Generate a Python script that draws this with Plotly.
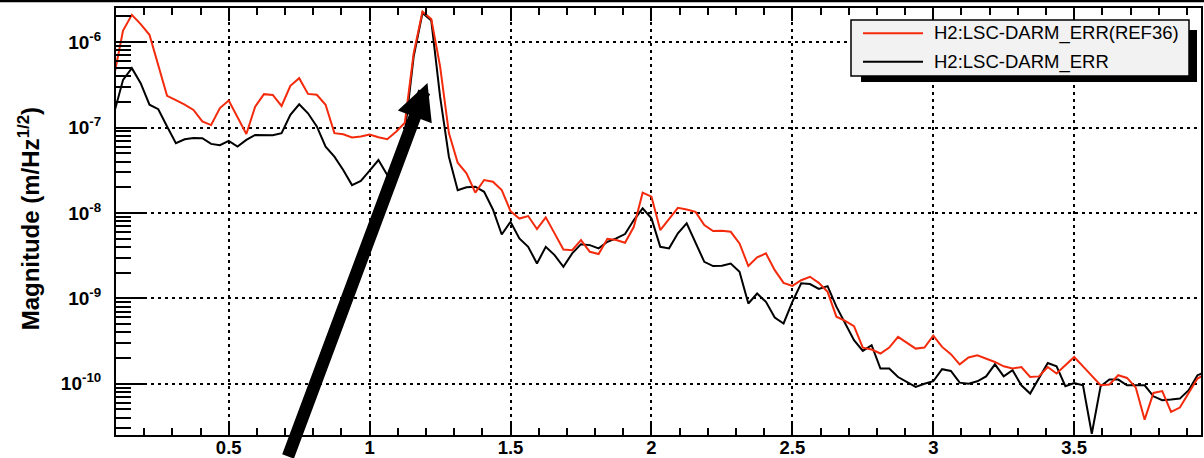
import plotly.graph_objects as go

# ---------------- data ----------------
freq = [0.09375, 0.125, 0.15625, 0.1875, 0.21875, 0.25, 0.28125, 0.3125, 0.34375, 0.375,
        0.40625, 0.4375, 0.46875, 0.5, 0.53125, 0.5625, 0.59375, 0.625, 0.65625, 0.6875,
        0.71875, 0.75, 0.78125, 0.8125, 0.84375, 0.875, 0.90625, 0.9375, 0.96875, 1.0,
        1.03125, 1.0625, 1.09375, 1.125, 1.15625, 1.1875, 1.21875, 1.25, 1.28125, 1.3125,
        1.34375, 1.375, 1.40625, 1.4375, 1.46875, 1.5, 1.53125, 1.5625, 1.59375, 1.625,
        1.65625, 1.6875, 1.71875, 1.75, 1.78125, 1.8125, 1.84375, 1.875, 1.90625, 1.9375,
        1.96875, 2.0, 2.03125, 2.0625, 2.09375, 2.125, 2.15625, 2.1875, 2.21875, 2.25,
        2.28125, 2.3125, 2.34375, 2.375, 2.40625, 2.4375, 2.46875, 2.5, 2.53125, 2.5625,
        2.59375, 2.625, 2.65625, 2.6875, 2.71875, 2.75, 2.78125, 2.8125, 2.84375, 2.875,
        2.90625, 2.9375, 2.96875, 3.0, 3.03125, 3.0625, 3.09375, 3.125, 3.15625, 3.1875,
        3.21875, 3.25, 3.28125, 3.3125, 3.34375, 3.375, 3.40625, 3.4375, 3.46875, 3.5,
        3.53125, 3.5625, 3.59375, 3.625, 3.65625, 3.6875, 3.71875, 3.75, 3.78125, 3.8125,
        3.84375, 3.875, 3.90625, 3.9375, 3.96875]

ref36 = [4.1e-7, 1.37e-6, 2.09e-6, 1.63e-6, 1.22e-6, 5.3e-7, 2.35e-7, 2.09e-7, 1.86e-7, 1.61e-7,
         1.18e-7, 1.07e-7, 1.69e-7, 2.07e-7, 1.29e-7, 8.4e-8, 1.76e-7, 2.46e-7, 2.41e-7, 1.79e-7,
         3.08e-7, 3.79e-7, 2.48e-7, 2.42e-7, 1.85e-7, 8.6e-8, 8.35e-8, 7.64e-8, 7.85e-8, 8.28e-8,
         7.7e-8, 7.3e-8, 8.95e-8, 1.14e-7, 7.4e-7, 2.28e-6, 1.86e-6, 5.2e-7, 8.6e-8, 3.88e-8,
         2.91e-8, 1.73e-8, 2.43e-8, 2.32e-8, 1.85e-8, 1.05e-8, 8.6e-9, 9.2e-9, 6.47e-9, 8.9e-9,
         5.77e-9, 3.74e-9, 3.67e-9, 4.81e-9, 3.51e-9, 3.3e-9, 4.99e-9, 4.81e-9, 4.48e-9, 6.89e-9,
         1.73e-8, 1.55e-8, 6.3e-9, 8.4e-9, 1.15e-8, 1.1e-8, 1.03e-8, 7.21e-9, 6.14e-9, 6.18e-9,
         6.02e-9, 4.4e-9, 2.39e-9, 3.02e-9, 3.36e-9, 2.14e-9, 1.52e-9, 1.4e-9, 1.63e-9, 1.79e-9,
         1.52e-9, 1.19e-9, 6.1e-10, 5.45e-10, 4.72e-10, 2.65e-10, 2.52e-10, 2.26e-10, 2.65e-10, 3.54e-10,
         3.01e-10, 2.58e-10, 2.65e-10, 3.67e-10, 2.7e-10, 2.22e-10, 1.69e-10, 2.03e-10, 2.16e-10, 1.97e-10,
         1.8e-10, 1.6e-10, 1.51e-10, 1.57e-10, 1.2e-10, 1.22e-10, 1.57e-10, 1.32e-10, 1.65e-10, 2.06e-10,
         1.6e-10, 1.25e-10, 9.6e-11, 9.8e-11, 1.26e-10, 1.17e-10, 9.0e-11, 3.8e-11, 7.8e-11, 8.2e-11,
         4.68e-11, 5.26e-11, 7.67e-11, 1.15e-10, 1.32e-10]

darm = [1.5e-7, 3.62e-7, 4.96e-7, 3.31e-7, 1.85e-7, 1.64e-7, 1.03e-7, 6.55e-8, 7.3e-8, 7.57e-8,
        7.5e-8, 6.44e-8, 6.21e-8, 6.98e-8, 5.99e-8, 7.16e-8, 8.2e-8, 8.13e-8, 8.13e-8, 8.59e-8,
        1.41e-7, 1.87e-7, 1.47e-7, 1.03e-7, 5.97e-8, 4.56e-8, 3.18e-8, 2.12e-8, 2.37e-8, 3.13e-8,
        4.17e-8, 2.78e-8, 2.4e-8, 8.7e-8, 6.8e-7, 2.19e-6, 1.79e-6, 2.3e-7, 4.56e-8, 1.85e-8,
        2.0e-8, 2.03e-8, 1.77e-8, 1.1e-8, 5.6e-9, 7.88e-9, 5.04e-9, 4.02e-9, 2.56e-9, 4.02e-9,
        3.21e-9, 2.34e-9, 3.36e-9, 4.31e-9, 4.2e-9, 3.85e-9, 4.6e-9, 5.04e-9, 5.66e-9, 8.26e-9,
        1.13e-8, 8.65e-9, 4.02e-9, 3.85e-9, 5.77e-9, 7.55e-9, 4.6e-9, 2.68e-9, 2.39e-9, 2.41e-9,
        2.56e-9, 2.05e-9, 8.71e-10, 1.14e-9, 9.1e-10, 5.97e-10, 5.08e-10, 9.1e-10, 1.5e-9, 1.47e-9,
        1.29e-9, 1.39e-9, 8.0e-10, 5.08e-10, 3.24e-10, 2.43e-10, 2.83e-10, 1.51e-10, 1.51e-10, 1.2e-10,
        1.05e-10, 9.18e-11, 1.0e-10, 1.07e-10, 1.48e-10, 1.41e-10, 1.03e-10, 1.0e-10, 1.07e-10, 1.22e-10,
        1.69e-10, 1.22e-10, 1.44e-10, 9.6e-11, 7.67e-11, 1.15e-10, 1.75e-10, 1.6e-10, 9.35e-11, 1.02e-10,
        9.6e-11, 2.6e-11, 9.35e-11, 1.12e-10, 1.12e-10, 9.6e-11, 9.6e-11, 9.6e-11, 7.13e-11, 6.41e-11,
        6.53e-11, 6.7e-11, 8.4e-11, 1.26e-10, 1.38e-10]

series_names = ["H2:LSC-DARM_ERR(REF36)", "H2:LSC-DARM_ERR"]
series_colors = ["#f42a0c", "#000000"]

y_tickvals = [1e-10, 1e-9, 1e-8, 1e-7, 1e-6]
y_ticktext = ["10<sup>-10</sup>", "10<sup>-9</sup>", "10<sup>-8</sup>", "10<sup>-7</sup>", "10<sup>-6</sup>"]
y_title = "Magnitude (m/Hz<sup>1/2</sup>)"

# arrow target (frequency, log10 magnitude)
arrow_f = 1.2053
arrow_mag_log = -6.477

FONT = "Liberation Sans, Arial, Helvetica, sans-serif"

# ---------------- figure ----------------
fig = go.Figure()
fig.add_trace(go.Scatter(x=freq, y=darm, mode="lines", name=series_names[1],
                         line=dict(color=series_colors[1], width=2), showlegend=False))
fig.add_trace(go.Scatter(x=freq, y=ref36, mode="lines", name=series_names[0],
                         line=dict(color=series_colors[0], width=2), showlegend=False))

W, H = 1204, 458
L, R, T, B = 116, 3, 8, 23
pw, ph = W - L - R, H - T - B


def px(xp):
    return (xp - L) / pw


def py(yp):
    return (H - B - yp) / ph


YRANGE = [-10.6, -5.6]
GRID = dict(showgrid=True, gridcolor="black", gridwidth=1.6, griddash="3px,4px")

fig.update_layout(
    width=W, height=H,
    margin=dict(l=L, r=R, t=T, b=B, pad=0, autoexpand=False),
    paper_bgcolor="white", plot_bgcolor="white",
    font=dict(family=FONT, color="black"),
    showlegend=False,
    xaxis=dict(
        range=[0.1, 3.95], tickmode="linear", tick0=0, dtick=0.5, automargin=False,
        ticks="inside", ticklen=13, tickwidth=2, tickcolor="black",
        showline=True, linecolor="black", linewidth=2, mirror="allticks",
        zeroline=False, ticklabelstandoff=-5,
        tickfont=dict(family=FONT, size=18.5, color="black", weight="bold"),
        minor=dict(dtick=0.1, tick0=0, ticks="inside", ticklen=7, tickwidth=2,
                   tickcolor="black", showgrid=False),
        **GRID,
    ),
    yaxis=dict(
        type="log", range=YRANGE, automargin=False,
        tickmode="array", tickvals=y_tickvals, ticktext=y_ticktext,
        ticks="inside", ticklen=31, tickwidth=2, tickcolor="black",
        showline=True, linecolor="black", linewidth=2, mirror=True,
        zeroline=False, ticklabelstandoff=9,
        tickfont=dict(family=FONT, size=19, color="black", weight="bold"),
        minor=dict(dtick="D1", ticks="inside", ticklen=15, tickwidth=2,
                   tickcolor="black", showgrid=False),
        **GRID,
    ),
    yaxis2=dict(
        type="log", range=YRANGE, overlaying="y", side="right", matches="y",
        automargin=False, showticklabels=False, showgrid=False, zeroline=False,
        showline=False, tickmode="array", tickvals=y_tickvals,
        ticks="inside", ticklen=16, tickwidth=2, tickcolor="black",
        minor=dict(dtick="D1", ticks="inside", ticklen=7, tickwidth=2,
                   tickcolor="black", showgrid=False),
    ),
)

# y-axis title
fig.add_annotation(text="<b>" + y_title + "</b>", xref="paper", yref="paper",
                   x=px(29), y=0.505, xanchor="center", yanchor="middle",
                   textangle=-90, showarrow=False,
                   font=dict(family=FONT, size=24, color="black"))

# top canvas border
fig.add_shape(type="line", xref="paper", yref="paper", x0=px(0), x1=px(W), y0=py(1), y1=py(1),
              line=dict(color="black", width=2.5))

# legend (drawn box with shadow)
fig.add_shape(type="rect", xref="paper", yref="paper",
              x0=px(861), x1=px(1197), y0=py(30), y1=py(82),
              fillcolor="black", line=dict(width=0), layer="above")
fig.add_shape(type="rect", xref="paper", yref="paper",
              x0=px(851), x1=px(1189), y0=py(20), y1=py(76),
              fillcolor="#f2f2f2", line=dict(color="black", width=1.5), layer="above")
for i, (nm, col) in enumerate(zip(series_names, series_colors)):
    yrow = 33.3 + i * 28.4
    fig.add_shape(type="line", xref="paper", yref="paper",
                  x0=px(863), x1=px(923), y0=py(yrow), y1=py(yrow),
                  line=dict(color=col, width=2), layer="above")
    fig.add_annotation(text=nm, xref="paper", yref="paper", x=px(932), y=py(yrow),
                       xanchor="left", yanchor="middle", showarrow=False,
                       font=dict(family=FONT, size=18.5, color="black"))

# big arrow pointing at the peak
fig.add_annotation(x=arrow_f, y=arrow_mag_log, xref="x", yref="y", text="",
                   showarrow=True, arrowhead=2, arrowwidth=12.5, arrowsize=0.58,
                   arrowcolor="black", ax=-140, ay=400, standoff=0)

fig.write_html("out.html", config={"displayModeBar": False},
               post_script="document.body.style.margin='0';document.body.style.overflow='hidden';")
